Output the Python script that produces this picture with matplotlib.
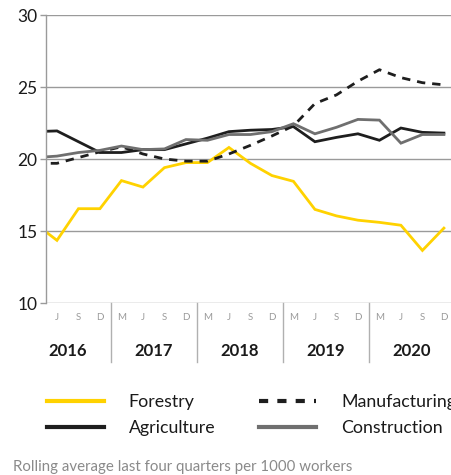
import matplotlib
matplotlib.use("Agg")
import matplotlib.pyplot as plt
import matplotlib.transforms as mtransforms
import matplotlib.lines as mlines

plt.rcParams['font.family'] = ['Lato', 'DejaVu Sans']

# Quarters from Mar 2016 to Dec 2020
quarters = ["M", "J", "S", "D"] * 5
years = ["2016", "2017", "2018", "2019", "2020"]

forestry = [15.5, 14.35, 16.55, 16.55, 18.5, 18.05, 19.4, 19.75, 19.75, 20.8,
            19.7, 18.85, 18.45, 16.5, 16.05, 15.75, 15.6, 15.4, 13.65, 15.2]
agriculture = [21.9, 21.95, 21.2, 20.45, 20.45, 20.65, 20.65, 21.05, 21.45, 21.9,
               22.0, 22.05, 22.25, 21.2, 21.5, 21.75, 21.3, 22.15, 21.85, 21.8]
manufacturing = [19.7, 19.7, 20.1, 20.5, 20.85, 20.35, 20.0, 19.85, 19.85, 20.35,
                 20.95, 21.6, 22.3, 23.85, 24.45, 25.4, 26.2, 25.65, 25.3, 25.15]
construction = [20.1, 20.2, 20.45, 20.6, 20.9, 20.65, 20.7, 21.35, 21.3, 21.7,
                21.7, 21.9, 22.45, 21.75, 22.2, 22.75, 22.7, 21.1, 21.7, 21.7]

yticks = [10, 15, 20, 25, 30]

YELLOW = "#FFD200"
BLACK = "#1e1e1e"
GREY = "#6f6f6f"
AXGREY = "#9a9a9a"

fig = plt.figure(figsize=(4.51, 4.75), dpi=100)
ax = fig.add_axes([46 / 451, 1 - 303 / 475, 1 - 46 / 451, 288 / 475])

x = list(range(len(quarters)))
ax.plot(x, forestry, color=YELLOW, lw=2.0, label="Forestry", solid_joinstyle="miter")
ax.plot(x, agriculture, color=BLACK, lw=2.0, label="Agriculture", solid_joinstyle="miter")
ax.plot(x, manufacturing, color=BLACK, lw=2.0, ls=(0, (3, 2.5)), label="Manufacturing")
ax.plot(x, construction, color=GREY, lw=2.0, label="Construction", solid_joinstyle="miter")

ax.set_xlim(0.49, 19.33)
ax.set_ylim(10, 30)

for s in ["top", "right", "bottom"]:
    ax.spines[s].set_visible(False)
ax.spines["left"].set_color(AXGREY)
ax.spines["left"].set_linewidth(1.0)

ax.set_yticks(yticks)
ax.set_yticklabels([str(v) for v in yticks], fontsize=12.5, color="#1a1a1a")
ax.tick_params(axis="y", length=4, width=1.0, color=AXGREY, pad=2)
ax.grid(axis="y", color=AXGREY, lw=1.0)
ax.set_axisbelow(True)

ax.set_xticks(x[1:])
ax.set_xticklabels(quarters[1:], fontsize=7, color="#9a9a9a")
ax.tick_params(axis="x", length=0, pad=7)

trans = mtransforms.blended_transform_factory(ax.transData, ax.transAxes)
for i in range(1, len(years)):
    sep = 4 * i - 0.5
    ax.plot([sep, sep], [0, -0.205], transform=trans, color="#b0b0b0",
            lw=1.0, clip_on=False)
for i, yr in enumerate(years):
    ax.text(4 * i + 1.5, -0.167, yr, transform=trans, ha="center", va="center",
            fontsize=12, fontweight="bold", color="#1a1a1a")

# Legend
h = ax.get_legend_handles_labels()
order = ["Forestry", "Agriculture", "Manufacturing", "Construction"]
hd = dict(zip(h[1], h[0]))
handles = []
for name in order:
    src = hd[name]
    handles.append(mlines.Line2D([], [], color=src.get_color(), ls=src.get_linestyle(),
                                 lw=3.0))
handles[2].set_linestyle((0, (2.2, 2.2)))
leg = fig.legend(handles, order, loc="upper left", bbox_to_anchor=(47 / 451, 1 - 394 / 475),
                 ncol=2, frameon=False, fontsize=12.8, handlelength=3.2,
                 handletextpad=1.4, columnspacing=2.47, labelspacing=0.59,
                 borderpad=0, borderaxespad=0)
for t in leg.get_texts():
    t.set_color("#1a1a1a")

fig.text(13 / 451, 1 - 467 / 475, "Rolling average last four quarters per 1000 workers",
         fontsize=10.8, color="#8a8a8a", ha="left", va="center")

fig.savefig("out.png", dpi=100)
